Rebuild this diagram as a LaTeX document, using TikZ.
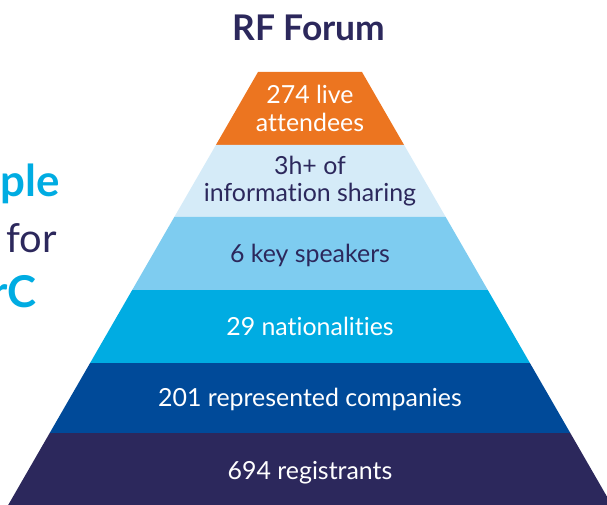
\documentclass[tikz,border=0pt]{standalone}
\usepackage{fontspec}
\setmainfont{Lato}[Ligatures={NoCommon,NoDiscretionary}]
\definecolor{cOrange}{HTML}{EC7520}
\definecolor{cLight}{HTML}{D5EBF8}
\definecolor{cSky}{HTML}{7ECCF0}
\definecolor{cCyan}{HTML}{00ACE2}
\definecolor{cBlue}{HTML}{004A99}
\definecolor{cNavy}{HTML}{2C285C}
\begin{document}
\begin{tikzpicture}[x=1bp,y=-1bp,
  lab/.style={font=\fontsize{25}{28}\selectfont, inner sep=0, anchor=base},
  side/.style={font=\fontsize{40}{44}\selectfont, inner sep=0, anchor=base east}]
\useasboundingbox (0,0) rectangle (607,505);
\clip (0,0) rectangle (607,505);
% layers
\fill[cOrange] (258,72) -- (362,72) -- (404.1,145) -- (215.9,145) -- cycle;
\fill[cLight] (215.9,145) -- (404.1,145) -- (445.7,217) -- (174.3,217) -- cycle;
\fill[cSky] (174.3,217) -- (445.7,217) -- (487.8,290) -- (132.2,290) -- cycle;
\fill[cCyan] (132.2,290) -- (487.8,290) -- (529.9,363) -- (90.1,363) -- cycle;
\fill[cBlue] (90.1,363) -- (529.9,363) -- (570.3,433) -- (49.7,433) -- cycle;
\fill[cNavy] (49.7,433) -- (570.3,433) -- (611.8,505) -- (8.2,505) -- cycle;
% title
\node[lab, text=cNavy, font=\fontsize{35.5}{40}\selectfont\bfseries] (title) at (309,41) {RF Forum};
% labels
\node[lab, text=white] (a1) at (310,104) {274 live};
\node[lab, text=white] (a2) at (310,132) {attendees};
\node[lab, text=cNavy] (b1) at (310,175) {3h+ of};
\node[lab, text=cNavy] (b2) at (310,202) {information sharing};
\node[lab, text=cNavy] (c1) at (310,262) {6 key speakers};
\node[lab, text=white] (d1) at (310,335) {29 nationalities};
\node[lab, text=white] (e1) at (310,406) {201 represented companies};
\node[lab, text=white] (f1) at (310,479) {694 registrants};
% cut-off side text
\node[side, text=cCyan, font=\fontsize{44}{48}\selectfont\bfseries] (s1) at (60,197) {ple};
\node[side, text=cNavy] (s2) at (57,252) {for};
\node[side, text=cCyan, font=\fontsize{44}{48}\selectfont\bfseries] (s3) at (37,307) {rC};
\end{tikzpicture}
\end{document}
